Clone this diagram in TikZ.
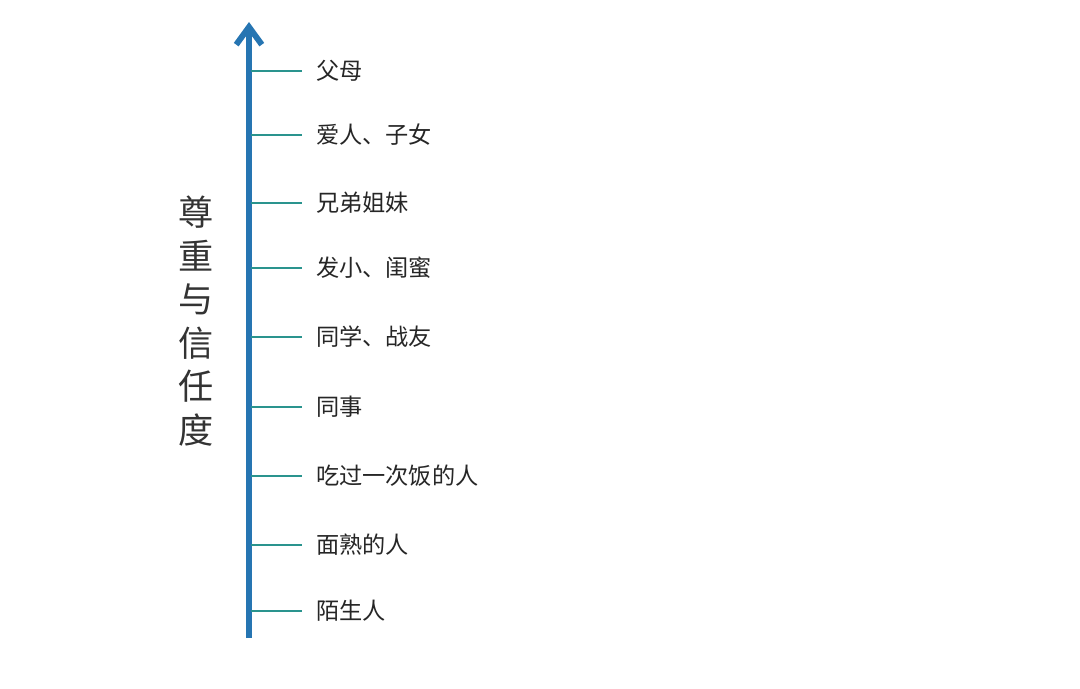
\documentclass[tikz,border=0pt]{standalone}
\usepackage{fontspec}
\setmainfont{Noto Sans CJK SC}
\usetikzlibrary{arrows.meta}
\definecolor{axisblue}{RGB}{38,117,178}
\definecolor{tickteal}{RGB}{42,148,142}
\begin{document}
\begin{tikzpicture}[
x=0.025cm,y=-0.025cm,
axis/.style={axisblue,line width=4pt,-{Straight Barb[length=4.4mm,width=6.4mm,line width=4.2pt]}},
tick/.style={tickteal,line width=1.5pt},
lbl/.style={anchor=west,inner sep=0pt,outer sep=0.35cm,font=\fontsize{16.5pt}{18pt}\selectfont,text=black!85},
title/.style={align=center,inner sep=0pt,font=\fontsize{25pt}{31pt}\selectfont,text=black!80}
]
\useasboundingbox (0,0) rectangle (1080,689);

% axis
\coordinate (bot) at (249,638);
\coordinate (top) at (249,22);
\draw[axis] (bot)--(top);

% vertical title
\node[title] (ttl) at (196,321) {尊\\重\\与\\信\\任\\度};

% levels, top to bottom
\coordinate (t1) at (251,71);
\coordinate (t2) at (251,135);
\coordinate (t3) at (251,203);
\coordinate (t4) at (251,268);
\coordinate (t5) at (251,337);
\coordinate (t6) at (251,407);
\coordinate (t7) at (251,476);
\coordinate (t8) at (251,545);
\coordinate (t9) at (251,611);

\node[lbl] (l1) at (302,71) {父母};
\node[lbl] (l2) at (302,135) {爱人、子女};
\node[lbl] (l3) at (302,203) {兄弟姐妹};
\node[lbl] (l4) at (302,268) {发小、闺蜜};
\node[lbl] (l5) at (302,337) {同学、战友};
\node[lbl] (l6) at (302,407) {同事};
\node[lbl] (l7) at (302,476) {吃过一次饭的人};
\node[lbl] (l8) at (302,545) {面熟的人};
\node[lbl] (l9) at (302,611) {陌生人};

\draw[tick] (t1)--(l1.west);
\draw[tick] (t2)--(l2.west);
\draw[tick] (t3)--(l3.west);
\draw[tick] (t4)--(l4.west);
\draw[tick] (t5)--(l5.west);
\draw[tick] (t6)--(l6.west);
\draw[tick] (t7)--(l7.west);
\draw[tick] (t8)--(l8.west);
\draw[tick] (t9)--(l9.west);
\end{tikzpicture}
\end{document}
